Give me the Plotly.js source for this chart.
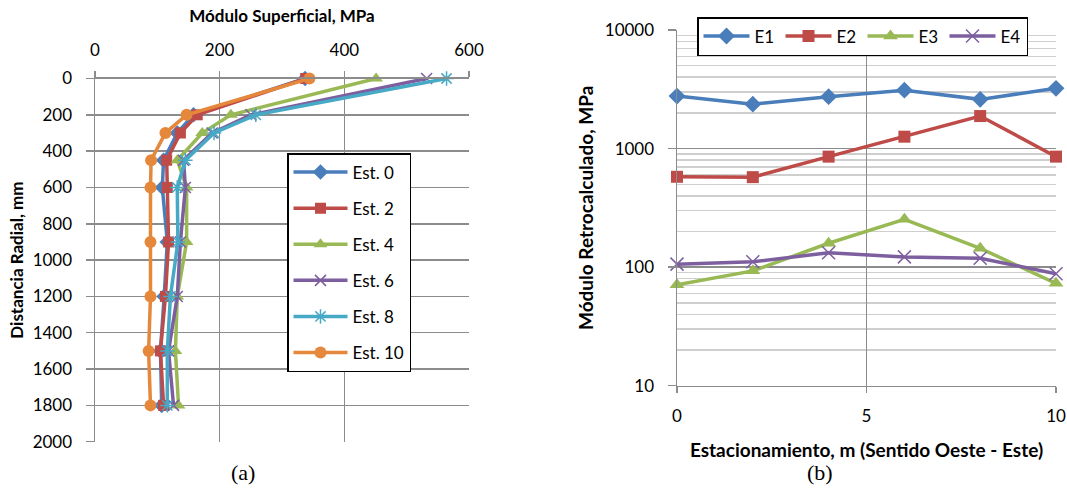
<!DOCTYPE html>
<html>
<head>
<meta charset="utf-8">
<script src="https://cdn.plot.ly/plotly-3.0.1.min.js"></script>
<style>html,body{margin:0;padding:0;background:#fff;}#chart{width:1067px;height:488px;}</style>
</head>
<body>
<div id="chart"></div>
<script>
// ---- Data: left chart (Módulo Superficial vs Distancia Radial)
const depths = [0, 200, 300, 450, 600, 900, 1200, 1500, 1800];
const est0  = [337, 158, 132, 110, 108, 116, 111, 105, 107];
const est2  = [338, 164, 137, 115, 116, 118, 113, 105, 110];
const est4  = [451, 218, 172, 132, 147, 147, 132, 129, 134];
const est6  = [532, 250, 188, 142, 145, 137, 132, 118, 126];
const est8  = [564, 258, 191, 145, 132, 133, 121, 116, 116];
const est10 = [344, 147, 113, 90, 89, 89, 89, 86, 89];
const leftNames = ["Est. 0", "Est. 2", "Est. 4", "Est. 6", "Est. 8", "Est. 10"];

// ---- Data: right chart (Módulo Retrocalculado vs Estacionamiento)
const stations = [0, 2, 4, 6, 8, 10];
const e1 = [2770, 2370, 2740, 3110, 2600, 3220];
const e2 = [578, 574, 855, 1260, 1880, 855];
const e3 = [71, 93, 159, 253, 144, 73];
const e4 = [106, 111, 132, 122, 119, 88];
const rightNames = ["E1", "E2", "E3", "E4"];

const FONT = "Lato, 'Liberation Sans', sans-serif";
const colBlue = "#4a7ebb", colRed = "#be4b48", colGreen = "#98b954",
      colPurple = "#7d5fa0", colCyan = "#46a9c5", colOrange = "#e5883c";

function leftTrace(x, name, color, symbol, size, group) {
  const open = symbol.indexOf("open") >= 0;
  return {
    x: x, y: depths, name: name, type: "scatter", mode: "lines+markers",
    xaxis: "x", yaxis: "y", legend: "legend", legendgroup: group,
    cliponaxis: false,
    line: {color: color, width: 3.5},
    marker: {symbol: symbol, size: size, color: color,
             line: {color: color, width: open ? 1.5 : 0}}
  };
}
function rightTrace(y, name, color, symbol, size) {
  const open = symbol.indexOf("open") >= 0;
  return {
    x: stations, y: y, name: name, type: "scatter", mode: "lines+markers",
    xaxis: "x2", yaxis: "y2", legend: "legend2",
    cliponaxis: false,
    line: {color: color, width: 3.5},
    marker: {symbol: symbol, size: size, color: color,
             line: {color: color, width: open ? 1.5 : 0}}
  };
}

const data = [
  leftTrace(est0, leftNames[0], colBlue, "diamond", 12, "g0"),
  leftTrace(est2, leftNames[1], colRed, "square", 11, "g1"),
  leftTrace(est4, leftNames[2], colGreen, "triangle-up", 12, "g2"),
  leftTrace(est6, leftNames[3], colPurple, "x-thin-open", 11, "g3"),
  leftTrace(est8, leftNames[4], colCyan, "asterisk-open", 12, "g4"),
  leftTrace(est10, leftNames[5], colOrange, "circle", 12, "g5"),
  rightTrace(e1, rightNames[0], colBlue, "diamond", 13),
  rightTrace(e2, rightNames[1], colRed, "square", 12),
  rightTrace(e3, rightNames[2], colGreen, "triangle-up", 13),
  rightTrace(e4, rightNames[3], colPurple, "x-thin-open", 13)
];

const gridGray = "#8c8c8c";
const layout = {
  width: 1067, height: 488,
  margin: {l: 0, r: 0, t: 0, b: 0},
  paper_bgcolor: "#fff", plot_bgcolor: "#fff",
  font: {family: FONT, size: 17, color: "#000"},
  showlegend: true,
  xaxis: {
    domain: [95/1067, 469/1067], anchor: "y", side: "top", automargin: false,
    range: [0, 600], dtick: 200, tick0: 0,
    showgrid: true, gridcolor: gridGray, gridwidth: 1.5,
    showline: true, linecolor: gridGray, linewidth: 1.5,
    ticks: "outside", ticklen: 6, tickcolor: gridGray, tickwidth: 1.5,
    ticklabelstandoff: 8,
    zeroline: false,
    tickfont: {family: FONT, size: 17},
    title: {text: "<b>Módulo Superficial, MPa</b>", font: {family: FONT, size: 17}, standoff: 12}
  },
  yaxis: {
    domain: [1 - 441.7/488, 1 - 78.5/488], anchor: "x", automargin: false,
    range: [2000, 0], dtick: 200, tick0: 0,
    showgrid: true, gridcolor: gridGray, gridwidth: 1.5,
    showline: true, linecolor: gridGray, linewidth: 1.5,
    ticks: "outside", ticklen: 8, tickcolor: gridGray, tickwidth: 1.5,
    ticklabelstandoff: 10,
    zeroline: false,
    tickfont: {family: FONT, size: 17},
    title: {text: "<b>Distancia Radial, mm</b>", font: {family: FONT, size: 17}, standoff: 4}
  },
  xaxis2: {
    domain: [677/1067, 1056/1067], anchor: "y2", automargin: false,
    range: [0, 10], dtick: 5, tick0: 0,
    showgrid: true, gridcolor: gridGray, gridwidth: 1.5,
    showline: true, linecolor: gridGray, linewidth: 1.5,
    ticks: "outside", ticklen: 6, tickcolor: gridGray, tickwidth: 1.5,
    ticklabelstandoff: 8,
    zeroline: false,
    tickfont: {family: FONT, size: 17},
    title: {text: "<b>Estacionamiento, m (Sentido Oeste - Este)</b>", font: {family: FONT, size: 19}, standoff: 19}
  },
  yaxis2: {
    domain: [1 - 385.7/488, 1 - 30/488], anchor: "x2", automargin: false,
    type: "log", range: [1, 4], dtick: 1, tickformat: "d",
    showgrid: true, gridcolor: gridGray, gridwidth: 1.5,
    minor: {showgrid: true, dtick: "D1", gridcolor: "#cfcfcf", gridwidth: 1.5, ticks: ""},
    showline: true, linecolor: gridGray, linewidth: 1.5,
    ticks: "outside", ticklen: 8, tickcolor: gridGray, tickwidth: 1.5,
    ticklabelstandoff: 10,
    zeroline: false,
    tickfont: {family: FONT, size: 17},
    title: {text: "<b>Módulo Retrocalculado, MPa</b>", font: {family: FONT, size: 19}, standoff: 6}
  },
  legend: {
    x: 287/1067, y: 1 - 153/488, xanchor: "left", yanchor: "top",
    bgcolor: "#fff", bordercolor: "#000", borderwidth: 1.5,
    font: {family: FONT, size: 17},
    traceorder: "grouped", tracegroupgap: 11, itemwidth: 54
  },
  legend2: {
    x: 697/1067, y: 1 - 17/488, xanchor: "left", yanchor: "top",
    orientation: "h",
    bgcolor: "#fff", bordercolor: "#000", borderwidth: 1.5,
    font: {family: FONT, size: 17},
    entrywidth: 21, entrywidthmode: "pixels", itemwidth: 46
  },
  annotations: [
    {text: "(a)", xref: "paper", yref: "paper", x: 243/1067, y: 1 - 472/488,
     xanchor: "center", yanchor: "middle", showarrow: false,
     font: {family: "'Liberation Serif', 'Times New Roman', serif", size: 22}},
    {text: "(b)", xref: "paper", yref: "paper", x: 820/1067, y: 1 - 472/488,
     xanchor: "center", yanchor: "middle", showarrow: false,
     font: {family: "'Liberation Serif', 'Times New Roman', serif", size: 22}}
  ]
};

Plotly.newPlot("chart", data, layout, {displayModeBar: false, staticPlot: true});
</script>
</body>
</html>
